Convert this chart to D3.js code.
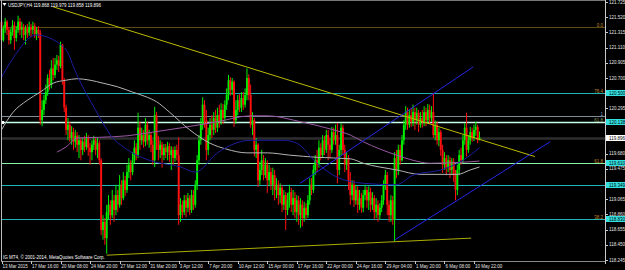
<!DOCTYPE html>
<html>
<head>
<meta charset="utf-8">
<script src="https://cdn.jsdelivr.net/npm/d3@7"></script>
<style>
body{margin:0;background:#000;}
svg{display:block;}
text{font-family:"Liberation Sans",Arial,sans-serif;font-size:4.5px;}
</style>
</head>
<body>
<svg id="chart" width="625" height="270"></svg>
<script>
// USDJPY H4 bars
var opens = [
121.46,121.21,121.37,121.46,121.35,121.21,121.32,121.41,121.24,121.35,
121.46,121.35,121.39,121.28,121.37,121.31,121.39,121.35,121.40,121.29,
121.35,121.31,120.13,120.27,120.40,120.51,120.70,120.61,120.83,120.74,
120.88,120.94,120.86,121.15,120.67,120.30,120.00,120.07,119.89,119.97,
119.84,119.92,119.80,119.86,119.73,119.84,119.77,119.89,119.76,119.70,
119.80,119.86,119.73,119.82,119.59,118.65,118.76,118.54,118.89,118.99,
118.85,119.05,118.92,119.12,118.99,119.26,119.08,119.32,119.19,119.43,
119.53,119.43,119.59,119.76,119.66,120.03,119.86,119.93,119.84,120.07,
119.86,119.93,119.80,119.59,120.20,119.86,119.73,119.80,119.66,119.76,
119.70,119.78,119.66,119.73,119.62,119.73,119.66,118.85,118.99,118.89,
119.05,118.95,119.08,118.92,119.12,118.99,119.26,119.59,119.86,120.07,
120.34,120.13,119.73,119.93,120.07,120.00,120.16,120.03,120.20,120.11,
120.27,120.16,120.34,120.47,120.67,120.54,120.65,120.13,120.27,120.40,
120.30,120.43,120.34,120.47,120.70,120.47,120.07,120.13,119.73,119.80,
119.32,119.46,119.59,119.39,119.53,119.32,119.43,119.26,119.39,119.19,
119.26,119.12,119.22,118.99,119.12,118.92,119.05,119.16,118.99,119.08,
118.89,119.05,118.85,118.99,118.81,118.95,118.85,119.05,119.26,119.19,
119.46,119.59,119.53,119.76,119.66,119.86,119.73,119.93,119.80,119.73,
119.97,119.86,119.93,119.46,119.73,120.03,119.73,119.53,119.62,119.32,
119.12,119.26,119.05,119.19,118.99,119.08,118.95,119.12,119.19,119.05,
119.16,118.99,119.08,118.89,118.99,118.85,118.95,119.05,119.26,119.39,
118.99,118.85,119.05,118.79,119.62,119.46,119.73,119.59,119.86,120.07,
120.24,120.07,120.20,120.11,120.24,120.13,120.23,120.07,120.16,120.11,
120.24,120.13,120.27,120.16,120.24,119.93,120.07,119.86,119.97,119.73,
119.53,119.62,119.49,119.59,119.46,119.57,119.39,119.19,119.46,119.66,
119.59,119.86,120.03,119.73,119.86,119.97,119.89,120.00,120.04,119.868
];
var highs = [
121.52,121.41,121.51,121.48,121.39,121.37,121.48,121.46,121.40,121.54,
121.51,121.46,121.43,121.41,121.43,121.46,121.43,121.46,121.44,121.39,
121.40,121.35,120.40,120.47,120.61,120.75,120.81,120.94,120.97,120.97,
121.01,121.00,121.19,121.16,120.70,120.34,120.16,120.11,120.05,120.03,
120.00,119.97,119.93,119.90,119.89,119.92,119.96,119.93,119.82,119.86,
119.92,119.90,119.89,119.86,119.62,118.85,118.81,118.99,119.12,119.05,
119.19,119.12,119.26,119.19,119.39,119.32,119.43,119.38,119.53,119.62,
119.59,119.70,119.86,119.82,120.23,120.11,120.03,120.00,120.16,120.11,
120.00,119.97,119.86,120.31,120.24,119.92,119.86,119.84,119.81,119.81,
119.84,119.82,119.78,119.77,119.78,119.80,119.90,119.08,119.05,119.12,
119.12,119.15,119.12,119.19,119.19,119.32,119.66,119.93,120.16,120.44,
120.40,120.27,120.03,120.16,120.20,120.24,120.27,120.30,120.34,120.36,
120.35,120.40,120.56,120.74,120.71,120.70,120.67,120.40,120.47,120.48,
120.51,120.51,120.56,120.83,120.75,120.61,120.24,120.16,119.89,119.82,
119.57,119.73,119.66,119.62,119.59,119.53,119.49,119.49,119.46,119.35,
119.32,119.28,119.26,119.19,119.16,119.15,119.26,119.22,119.19,119.16,
119.12,119.11,119.08,119.05,119.03,119.01,119.12,119.35,119.35,119.53,
119.66,119.73,119.86,119.82,119.93,119.92,120.00,120.00,119.89,120.04,
120.03,120.07,120.09,119.80,120.09,120.07,119.80,119.70,119.66,119.43,
119.32,119.32,119.26,119.24,119.19,119.15,119.19,119.26,119.23,119.24,
119.22,119.16,119.12,119.08,119.05,119.01,119.12,119.32,119.46,119.43,
119.05,119.12,119.11,119.70,119.73,119.80,119.80,119.93,120.13,120.32,
120.30,120.27,120.30,120.34,120.30,120.30,120.27,120.24,120.27,120.32,
120.30,120.35,120.34,120.32,120.50,120.13,120.11,120.03,120.00,119.80,
119.70,119.66,119.66,119.64,119.62,119.62,119.46,119.53,119.73,119.76,
119.93,120.09,120.23,119.93,120.04,120.03,120.07,120.11,120.07,119.979
];
var lows = [
121.17,121.19,121.31,121.28,121.15,121.16,121.27,121.08,121.19,121.31,
121.28,121.24,121.21,121.15,121.24,121.27,121.25,121.29,121.24,121.21,
121.24,120.07,120.05,120.20,120.35,120.46,120.54,120.56,120.67,120.70,
120.81,120.78,120.83,120.61,120.24,119.93,119.86,119.84,119.80,119.73,
119.76,119.70,119.62,119.59,119.66,119.70,119.73,119.65,119.53,119.59,
119.73,119.66,119.62,119.53,118.58,118.52,118.45,118.33,118.79,118.72,
118.81,118.76,118.85,118.89,118.95,118.99,119.05,119.11,119.15,119.35,
119.32,119.39,119.55,119.59,119.62,119.73,119.80,119.76,119.78,119.80,
119.76,119.70,119.53,119.50,119.73,119.59,119.62,119.49,119.59,119.62,
119.59,119.57,119.46,119.53,119.57,119.59,118.72,118.76,118.81,118.85,
118.82,118.89,118.85,118.88,118.92,118.95,119.19,119.53,119.80,120.00,
120.03,119.59,119.66,119.86,119.89,119.93,119.96,119.97,120.03,120.07,
120.08,120.11,120.27,120.40,120.46,120.47,120.04,120.08,120.20,120.24,
120.24,120.27,120.30,120.40,120.40,120.03,119.93,119.64,119.62,119.23,
119.26,119.39,119.32,119.35,119.15,119.24,119.19,119.12,119.05,119.08,
118.99,119.01,118.89,118.92,118.65,118.85,118.95,118.89,118.85,118.81,
118.76,118.72,118.68,118.70,118.76,118.79,118.81,118.99,119.12,119.15,
119.39,119.43,119.49,119.59,119.62,119.66,119.69,119.59,119.62,119.69,
119.80,119.80,119.28,119.39,119.66,119.66,119.43,119.46,119.19,118.99,
119.05,118.96,118.99,118.88,118.92,118.88,118.89,119.05,118.95,118.92,
118.89,118.92,118.79,118.81,118.76,118.79,118.89,118.99,119.19,118.85,
118.76,118.76,118.72,118.49,119.35,119.39,119.53,119.57,119.80,120.00,
120.00,120.03,120.04,120.05,120.00,120.07,119.97,120.03,120.03,120.05,
120.05,120.08,120.08,120.11,119.89,119.86,119.80,119.78,119.65,119.42,
119.46,119.39,119.43,119.35,119.39,119.30,119.05,119.12,119.39,119.53,
119.55,119.80,119.64,119.69,119.80,119.84,119.85,119.92,119.82,119.858
];
var closes = [
121.21,121.37,121.46,121.35,121.21,121.32,121.41,121.24,121.35,121.46,
121.35,121.39,121.28,121.37,121.31,121.39,121.35,121.40,121.29,121.35,
121.31,120.13,120.27,120.40,120.51,120.70,120.61,120.83,120.74,120.88,
120.94,120.86,121.15,120.67,120.30,120.00,120.07,119.89,119.97,119.84,
119.92,119.80,119.86,119.73,119.84,119.77,119.89,119.76,119.70,119.80,
119.86,119.73,119.82,119.59,118.65,118.76,118.54,118.89,118.99,118.85,
119.05,118.92,119.12,118.99,119.26,119.08,119.32,119.19,119.43,119.53,
119.43,119.59,119.76,119.66,120.03,119.86,119.93,119.84,120.07,119.86,
119.93,119.80,119.59,120.20,119.86,119.73,119.80,119.66,119.76,119.70,
119.78,119.66,119.73,119.62,119.73,119.66,118.85,118.99,118.89,119.05,
118.95,119.08,118.92,119.12,118.99,119.26,119.59,119.86,120.07,120.34,
120.13,119.73,119.93,120.07,120.00,120.16,120.03,120.20,120.11,120.27,
120.16,120.34,120.47,120.67,120.54,120.65,120.13,120.27,120.40,120.30,
120.43,120.34,120.47,120.70,120.47,120.07,120.13,119.73,119.80,119.32,
119.46,119.59,119.39,119.53,119.32,119.43,119.26,119.39,119.19,119.26,
119.12,119.22,118.99,119.12,118.92,119.05,119.16,118.99,119.08,118.89,
119.05,118.85,118.99,118.81,118.95,118.85,119.05,119.26,119.19,119.46,
119.59,119.53,119.76,119.66,119.86,119.73,119.93,119.80,119.73,119.97,
119.86,119.93,119.46,119.73,120.03,119.73,119.53,119.62,119.32,119.12,
119.26,119.05,119.19,118.99,119.08,118.95,119.12,119.19,119.05,119.16,
118.99,119.08,118.89,118.99,118.85,118.95,119.05,119.26,119.39,118.99,
118.85,119.05,118.79,119.62,119.46,119.73,119.59,119.86,120.07,120.24,
120.07,120.20,120.11,120.24,120.13,120.23,120.07,120.16,120.11,120.24,
120.13,120.27,120.16,120.24,119.93,120.07,119.86,119.97,119.73,119.53,
119.62,119.49,119.59,119.46,119.57,119.39,119.19,119.46,119.66,119.59,
119.86,120.03,119.73,119.86,119.97,119.89,120.00,120.04,119.86,119.896
];

var timeLabels = ["13 Mar 2015","17 Mar 16:00","20 Mar 08:00","24 Mar 20:00","27 Mar 12:00",
  "31 Mar 20:00","3 Apr 12:00","7 Apr 20:00","10 Apr 12:00","15 Apr 00:00","17 Apr 16:00",
  "22 Apr 00:00","24 Apr 16:00","29 Apr 04:00","1 May 20:00","6 May 08:00","10 May 22:00"];
var barsPerLabel = 16;

var priceTicks = [121.725,121.520,121.315,121.110,120.905,120.700,120.295,119.680,119.475,
  119.065,118.860,118.655,118.450,118.245];

// horizontal objects: price of the line, and the tag printed on the axis
var levelPrices = [121.39, 120.50, 120.19, 120.11, 119.896, 119.55, 119.25, 118.80];
var levelTags   = [null, "120.500", null, "120.138", "119.896", "119.610", "119.349", "118.830"];
var fibTexts    = ["0.0", "76.4", "1", "61.8", null, "61.8", null, "38.2"];

// moving averages: [bar, price]
var maBlue = [[0,120.71],[5,120.92],[10,121.10],[15,121.24],[19,121.28],[26,121.24],[32,121.15],
  [36,121.04],[39,120.85],[44,120.58],[50,120.31],[55,120.09],[60,119.90],[66,119.77],[80,119.59],
  [97,119.50],[105,119.43],[117,119.69],[135,119.86],[153,119.86],[160,119.82],[171,119.55],
  [182,119.36],[196,119.28],[214,119.26],[223,119.39],[238,119.46],[250,119.59],[259,119.76]];
var maGrey = [[0,120.00],[6,120.23],[14,120.40],[21,120.51],[28,120.63],[35,120.67],[41,120.69],
  [48,120.67],[55,120.63],[63,120.58],[71,120.51],[79,120.44],[84,120.38],[91,120.24],[102,120.00],
  [113,119.82],[122,119.74],[133,119.69],[144,119.69],[156,119.66],[171,119.63],[189,119.61],
  [196,119.55],[214,119.46],[227,119.40],[247,119.40],[254,119.46],[259,119.50]];
var maPurple = [[30,119.70],[35,119.77],[41,119.89],[53,119.90],[68,119.92],[82,119.97],[98,120.03],
  [117,120.11],[135,120.19],[144,120.19],[162,120.11],[180,120.00],[189,119.93],[196,119.84],
  [214,119.66],[223,119.59],[232,119.55],[254,119.57],[259,119.58]];

// trend lines: [bar, price] end points
var trendTop    = [[28,121.66],[289,119.64]];
var trendBottom = [[57,118.31],[254.5,118.54]];
var channelLow  = [[213.3,118.52],[297.3,119.84]];
var channelHigh = [[161.8,119.28],[255.6,120.85]];

var header = "USDJPY,H4 119.868 119.979 119.858 119.896";
var credit = "IG MT4, \u00a9 2001-2014, MetaQuotes Software Corp.";

var svg = d3.select("#chart");
var right = 605, bottom = 261;

var x = d3.scaleLinear().domain([0, 327]).range([1.5, right]);
var y = d3.scaleLinear().domain([118.245, 121.725]).range([260, 2]);

svg.append("rect").attr("width",625).attr("height",270).attr("fill","#000");

var levelColors = ["#5e4c12","#1fb4b4","#7d8c96","#c8ffe8","#2e2e2e","#88f0a8","#1fb4b8","#1fb4b8"];
var levelWidths = [1.2,1,1,1.4,2.6,1.2,1,1];
var plot = svg.append("g");

plot.selectAll("line.level").data(levelPrices).enter().append("line")
  .attr("x1",1).attr("x2",right)
  .attr("y1",function(d){return Math.round(y(d))+0.5;})
  .attr("y2",function(d){return Math.round(y(d))+0.5;})
  .attr("stroke",function(d,i){return levelColors[i];})
  .attr("stroke-width",function(d,i){return levelWidths[i];});

// candles
var bars = d3.range(closes.length);
var bull = "#00f000", bear = "#ff1010";
var candle = plot.selectAll("g.bar").data(bars).enter().append("g");
candle.append("line")
  .attr("x1",function(i){return x(i);}).attr("x2",function(i){return x(i);})
  .attr("y1",function(i){return y(highs[i]);}).attr("y2",function(i){return y(lows[i]);})
  .attr("stroke",function(i){return closes[i]>=opens[i]?bull:bear;}).attr("stroke-width",1);
candle.append("rect")
  .attr("x",function(i){return x(i)-0.95;}).attr("width",1.9)
  .attr("y",function(i){return y(Math.max(opens[i],closes[i]));})
  .attr("height",function(i){return Math.max(1,Math.abs(y(opens[i])-y(closes[i])));})
  .attr("fill",function(i){return closes[i]>=opens[i]?bull:bear;});

// moving averages
var ma = d3.line().x(function(d){return x(d[0]);}).y(function(d){return y(d[1]);}).curve(d3.curveMonotoneX);
plot.append("path").attr("d",ma(maPurple)).attr("fill","none").attr("stroke","#9a58a4").attr("stroke-width",1);
plot.append("path").attr("d",ma(maGrey)).attr("fill","none").attr("stroke","#b4b4b4").attr("stroke-width",1);
plot.append("path").attr("d",ma(maBlue)).attr("fill","none").attr("stroke","#1c1ca0").attr("stroke-width",1);

// trend lines
var tl = d3.line().x(function(d){return x(d[0]);}).y(function(d){return y(d[1]);});
plot.append("path").attr("d",tl(trendTop)).attr("stroke","#bcbc00").attr("fill","none");
plot.append("path").attr("d",tl(trendBottom)).attr("stroke","#acac00").attr("fill","none");
plot.append("path").attr("d",tl(channelLow)).attr("stroke","#2626e6").attr("fill","none");
plot.append("path").attr("d",tl(channelHigh)).attr("stroke","#2626e6").attr("fill","none");

// fib texts on the right end of levels
levelPrices.forEach(function(p,i){
  if(!fibTexts[i]) return;
  plot.append("text").attr("x",603).attr("text-anchor","end")
    .attr("y",Math.round(y(p))-0.5)
    .attr("fill", i===2 ? "#8aa0c8" : (i===3 ? "#8c9c66" : "#c08828"))
    .text(fibTexts[i]);
});

// left marker
svg.append("rect").attr("x",1).attr("y",Math.round(y(levelPrices[3]))-1).attr("width",3).attr("height",3).attr("fill","#fff");

// frame
svg.append("line").attr("x1",0).attr("x2",right).attr("y1",0.5).attr("y2",0.5).attr("stroke","#777");
svg.append("line").attr("x1",1.5).attr("x2",1.5).attr("y1",0).attr("y2",bottom).attr("stroke","#bbb");
svg.append("line").attr("x1",right+0.5).attr("x2",right+0.5).attr("y1",0).attr("y2",bottom+3).attr("stroke","#c8c8c8");
svg.append("line").attr("x1",1).attr("x2",right).attr("y1",bottom+0.5).attr("y2",bottom+0.5).attr("stroke","#8a8a8a");

// price axis
var axis = svg.append("g");
axis.selectAll("line.tick").data(priceTicks).enter().append("line")
  .attr("x1",right).attr("x2",right+3)
  .attr("y1",function(d){return Math.round(y(d))+0.5;}).attr("y2",function(d){return Math.round(y(d))+0.5;})
  .attr("stroke","#c8c8c8");
axis.selectAll("text.tick").data(priceTicks).enter().append("text")
  .attr("x",right+4).attr("y",function(d){return y(d)+1.6;})
  .attr("fill","#e4e4e4").text(function(d){return d.toFixed(3);});

levelPrices.forEach(function(p,i){
  if(!levelTags[i]) return;
  var yy = Math.round(y(p));
  axis.append("rect").attr("x",right+1).attr("y",yy-3).attr("width",19).attr("height",6)
    .attr("fill", i===4 ? "#ffffff" : "#33e0e0");
  axis.append("text").attr("x",right+4).attr("y",yy+1.6).attr("fill","#000").text(levelTags[i]);
});

// time axis
var ticks = d3.range(timeLabels.length).map(function(k){return k*barsPerLabel;});
svg.selectAll("line.tt").data(ticks).enter().append("line")
  .attr("x1",function(d){return Math.round(x(d))+0.5;}).attr("x2",function(d){return Math.round(x(d))+0.5;})
  .attr("y1",bottom).attr("y2",bottom+3).attr("stroke","#c8c8c8");
svg.selectAll("text.tt").data(ticks).enter().append("text")
  .attr("x",function(d){return x(d)+1;}).attr("y",268)
  .attr("fill","#e4e4e4").text(function(d,k){return timeLabels[k];});

// header and credit
svg.append("path").attr("d","M2.5,3 L6.5,3 L4.5,6 Z").attr("fill","#fff");
svg.append("text").attr("x",8).attr("y",7).attr("fill","#fff").text(header);
svg.append("text").attr("x",3).attr("y",258.5).attr("fill","#fff").text(credit);
</script>
</body>
</html>
